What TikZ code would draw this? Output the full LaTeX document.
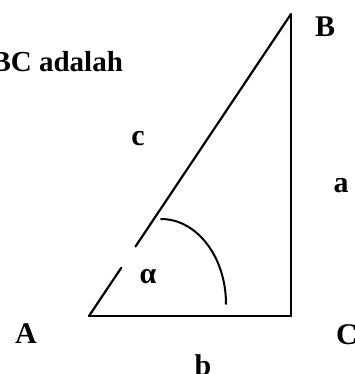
\documentclass[tikz,border=0pt]{standalone}
\usepackage{fontspec}
\setmainfont{Liberation Serif}
\usetikzlibrary{calc,positioning}
\begin{document}
\begin{tikzpicture}[x=1pt,y=-1pt,font=\fontsize{30pt}{32pt}\selectfont\bfseries,
        sd/.style={line width=2.2pt,line cap=round,color=black},
        lb/.style={inner sep=0pt,anchor=center}]
        \useasboundingbox (0,0) rectangle (354,374);
        \coordinate (A) at (89,316); \coordinate (B) at (291,14); \coordinate (C) at (291,316);
        \draw[sd] (A)--($(A)!0.16!(B)$); \draw[sd] ($(A)!0.23!(B)$)--(B);
        \draw[sd,line width=1.8pt] (B)--(C); \draw[sd] (A)--(C);
        \coordinate (arcS) at (161,219);
        \draw[sd,line width=2pt] (arcS) arc[start angle=90,end angle=0,x radius=65pt,y radius=85pt];
        \node[anchor=base west,font=\fontsize{29pt}{31pt}\selectfont\bfseries] (txt) at (-12,72) {BC adalah};
        \node[lb] (lB) at (325,27) {B}; \node[lb] (lA) at (26,334) {A}; \node[lb] (lC) at (347,335) {C};
        \node[lb] (lc) at (138,139) {c}; \node[lb] (la) at (341,186) {a}; \node[lb] (lb) at (203,365) {b};
        \node[lb] (alf) at (148,277) {α};
      \end{tikzpicture}
\end{document}
